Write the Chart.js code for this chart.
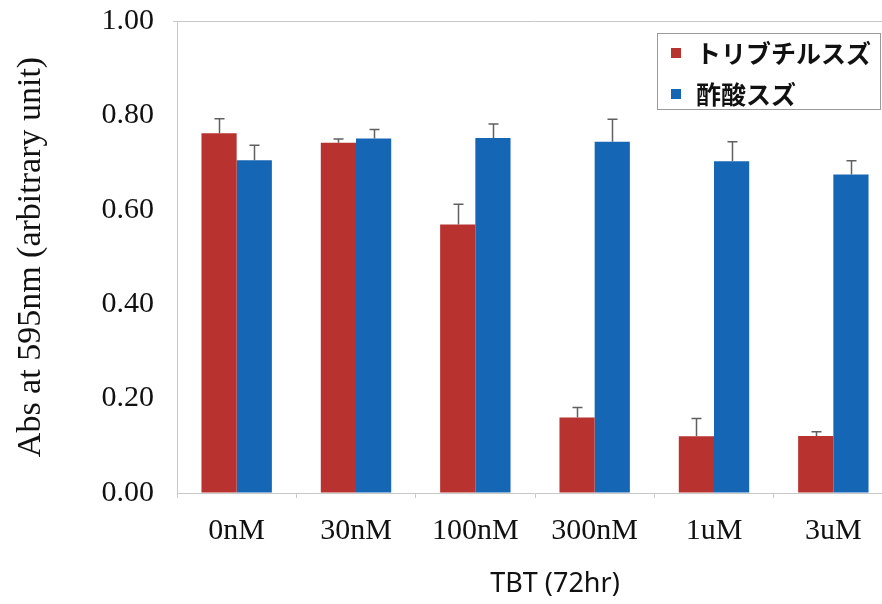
<!DOCTYPE html>
<html>
<head>
<meta charset="utf-8">
<script src="https://cdn.jsdelivr.net/npm/chart.js@4"></script>
<style>
html,body{margin:0;padding:0;background:#fff;overflow:hidden;}
#wrap{position:absolute;left:0;top:0;width:893px;height:604px;}
</style>
</head>
<body>
<div id="wrap"><canvas id="c" width="893" height="604"></canvas></div>
<script>
const categories = ['0nM', '30nM', '100nM', '300nM', '1uM', '3uM'];
const seriesNames = ['トリブチルスズ', '酢酸スズ'];
const tbtValues = [0.762, 0.742, 0.569, 0.160, 0.120, 0.121];
const tbtErrors = [0.031, 0.008, 0.043, 0.021, 0.038, 0.009];
const acetateValues = [0.705, 0.751, 0.752, 0.744, 0.703, 0.675];
const acetateErrors = [0.032, 0.019, 0.030, 0.048, 0.041, 0.029];
const yTicks = [0, 0.2, 0.4, 0.6, 0.8, 1.0];
const xTitle = 'TBT (72hr)';
const yTitle = 'Abs at 595nm (arbitrary unit)';

const RED = '#b8322f';
const BLUE = '#1666b6';

const errorBars = {
  id: 'errorBars',
  afterDatasetsDraw(chart) {
    const ctx = chart.ctx;
    const y = chart.scales.y;
    ctx.save();
    ctx.strokeStyle = '#606060';
    ctx.lineWidth = 1.5;
    chart.data.datasets.forEach((ds, di) => {
      const meta = chart.getDatasetMeta(di);
      meta.data.forEach((bar, i) => {
        const top = y.getPixelForValue(ds.data[i] + ds.errors[i]);
        const x = Math.round(bar.x) + 0.5;
        ctx.beginPath();
        ctx.moveTo(x, bar.y);
        ctx.lineTo(x, top);
        ctx.moveTo(x - 5, top);
        ctx.lineTo(x + 5, top);
        ctx.stroke();
      });
    });
    ctx.restore();
  }
};

const boxLegend = {
  id: 'boxLegend',
  afterDraw(chart) {
    const ctx = chart.ctx;
    ctx.save();
    ctx.fillStyle = '#fff';
    ctx.fillRect(657, 33, 223, 76);
    ctx.strokeStyle = '#9a9a9a';
    ctx.lineWidth = 1;
    ctx.strokeRect(657.5, 33.5, 223, 76);
    ctx.font = 'bold 25px "Noto Sans CJK JP"';
    ctx.textBaseline = 'middle';
    ctx.textAlign = 'left';
    chart.data.datasets.forEach((ds, i) => {
      const cy = 53 + i * 41;
      ctx.fillStyle = ds.backgroundColor;
      ctx.fillRect(671, cy - 5, 10, 10);
      ctx.fillStyle = '#111';
      ctx.fillText(ds.label, 696, cy);
    });
    // x axis title
    ctx.font = '27px "Noto Sans"';
    ctx.textAlign = 'center';
    ctx.fillStyle = '#111';
    ctx.fillText(xTitle, 555, 584);
    ctx.restore();
  }
};

new Chart(document.getElementById('c'), {
  type: 'bar',
  data: {
    labels: categories,
    datasets: [
      { label: seriesNames[0], data: tbtValues, errors: tbtErrors, backgroundColor: RED, borderWidth: 0 },
      { label: seriesNames[1], data: acetateValues, errors: acetateErrors, backgroundColor: BLUE, borderWidth: 0 }
    ]
  },
  options: {
    responsive: false,
    animation: false,
    layout: { padding: { top: 21, left: 0, right: 0, bottom: 0 } },
    datasets: { bar: { categoryPercentage: 0.59, barPercentage: 1.0 } },
    plugins: { legend: { display: false }, tooltip: { enabled: false } },
    scales: {
      x: {
        offset: true,
        grid: { drawOnChartArea: false, drawTicks: true, tickLength: 5, offset: true, color: '#c8c8c8' },
        border: { display: true, color: '#c8c8c8', width: 1 },
        ticks: { color: '#111', font: { family: '"Liberation Serif"', size: 30 }, padding: 15, maxRotation: 0 },
        afterFit(s) { s.height = 111; s.paddingLeft = 0; s.paddingRight = 0; }
      },
      y: {
        min: 0, max: 1,
        afterBuildTicks(s) { s.ticks = yTicks.map(v => ({ value: v })); },
        grid: {
          drawTicks: true, tickLength: 4,
          color: (c) => (c.tick && c.tick.value === 1 ? '#c8c8c8' : 'rgba(0,0,0,0)')
        },
        border: { display: true, color: '#c8c8c8', width: 1 },
        ticks: { color: '#111', font: { family: '"Liberation Serif"', size: 30 }, padding: 19,
                 callback: (v) => Number(v).toFixed(2) },
        title: { display: true, text: yTitle, color: '#111',
                 font: { family: '"Liberation Serif"', size: 34 }, padding: { top: 11, bottom: 0 } },
        afterFit(s) { s.width = 177; s.paddingTop = 0; s.paddingBottom = 0; }
      }
    }
  },
  plugins: [errorBars, boxLegend]
});
</script>
</body>
</html>
